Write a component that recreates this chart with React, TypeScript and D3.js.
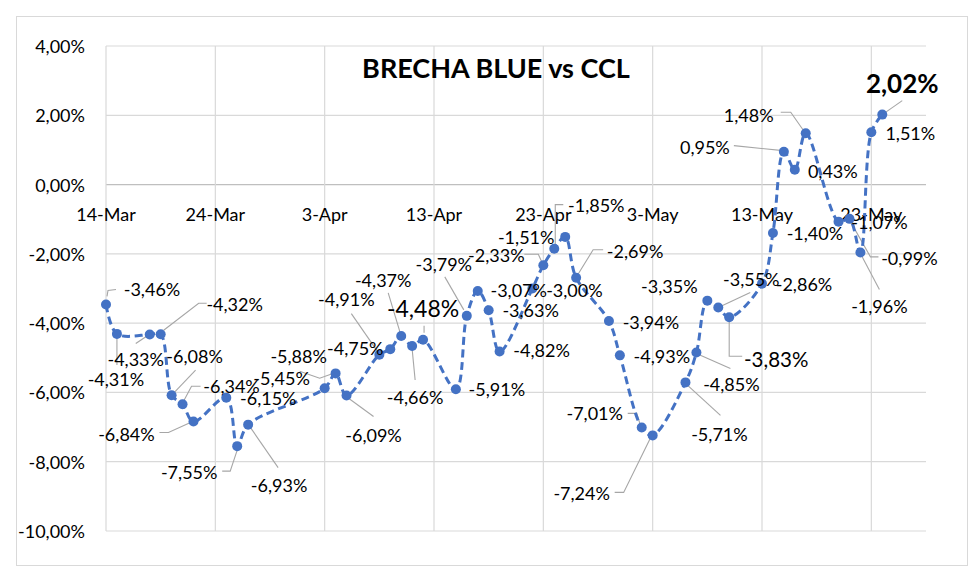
import React from 'react';
import * as d3 from 'd3';

// ---- data ----
const dates = [
  '2024-03-14', '2024-03-15', '2024-03-18', '2024-03-19', '2024-03-20', '2024-03-21', '2024-03-22',
  '2024-03-25', '2024-03-26', '2024-03-27', '2024-04-03', '2024-04-04', '2024-04-05',
  '2024-04-08', '2024-04-09', '2024-04-10', '2024-04-11', '2024-04-12',
  '2024-04-15', '2024-04-16', '2024-04-17', '2024-04-18', '2024-04-19',
  '2024-04-22', '2024-04-23', '2024-04-24', '2024-04-25', '2024-04-26',
  '2024-04-29', '2024-04-30', '2024-05-02', '2024-05-03',
  '2024-05-06', '2024-05-07', '2024-05-08', '2024-05-09', '2024-05-10',
  '2024-05-13', '2024-05-14', '2024-05-15', '2024-05-16', '2024-05-17',
  '2024-05-20', '2024-05-21', '2024-05-22', '2024-05-23', '2024-05-24',
];
const values = [
  -3.46, -4.31, -4.33, -4.32, -6.08, -6.34, -6.84,
  -6.15, -7.55, -6.93, -5.88, -5.45, -6.09,
  -4.91, -4.75, -4.37, -4.66, -4.48,
  -5.91, -3.79, -3.07, -3.63, -4.82,
  -3.0, -2.33, -1.85, -1.51, -2.69,
  -3.94, -4.93, -7.01, -7.24,
  -5.71, -4.85, -3.35, -3.55, -3.83,
  -2.86, -1.4, 0.95, 0.43, 1.48,
  -1.07, -0.99, -1.96, 1.51, 2.02,
];
const yTicks = [-10, -8, -6, -4, -2, 0, 2, 4];
const xTickDates = ['2024-03-14', '2024-03-24', '2024-04-03', '2024-04-13', '2024-04-23', '2024-05-03', '2024-05-13', '2024-05-23'];
const xDomain = ['2024-03-14', '2024-05-28'];
const title = 'BRECHA BLUE vs CCL';

// ---- label layout (offsets from each point, in px) ----
type Lay = { dx: number; dy: number; leader?: number[][]; size?: number; bold?: boolean };
const labelLayout: Lay[] = [
  { dx: 46, dy: -15, leader: [[1, -8], [2, -14], [10, -15]] },
  { dx: -1, dy: 45, leader: [[0, 4], [0, 31]] },
  { dx: -14, dy: 24, leader: [[-14, 9], [-2, 1]] },
  { dx: 74, dy: -30, leader: [[3, -4], [38, -31], [46, -31]] },
  { dx: 23, dy: -39, leader: [[24, -25], [3, -3]] },
  { dx: 49, dy: -18, leader: [[18, -18], [9, -18], [1, -3]] },
  { dx: -67, dy: 12, leader: [[-34, 11], [-25, 11], [-3, 1]] },
  { dx: 42, dy: 0 },
  { dx: -48, dy: 26, leader: [[-15, 25], [-7, 25], [0, 4]] },
  { dx: 31, dy: 60, leader: [[30, 43], [1, 1]] },
  { dx: -26, dy: -32, leader: [[-25, -17], [-5, -10], [9, -15]] },
  { dx: -54, dy: 5 },
  { dx: 27, dy: 39, leader: [[27, 21], [1, 2]] },
  { dx: -33, dy: -56, leader: [[-28, -41], [-1, -2]] },
  { dx: -35, dy: -1 },
  { dx: -18, dy: -56, leader: [[-13, -43], [-1, -3]] },
  { dx: 3, dy: 51, leader: [[3, 34], [0, 3]] },
  { dx: 0, dy: -32, leader: [[1, -14], [1, -7]], size: 23 },
  { dx: 41, dy: 0 },
  { dx: -23, dy: -52, leader: [[-22, -39], [-3, -6]] },
  { dx: 41, dy: -1 },
  { dx: 42, dy: 0 },
  { dx: 42, dy: -2 },
  { dx: 42, dy: 1 },
  { dx: -47, dy: -10, leader: [[-19, -11], [-5, -11], [-1, -2]] },
  { dx: 42, dy: -44, leader: [[1, -3], [1, -44], [9, -44]] },
  { dx: -39, dy: 0 },
  { dx: 59, dy: -27, leader: [[27, -28], [17, -28], [1, -2]] },
  { dx: 42, dy: 1 },
  { dx: 42, dy: 1 },
  { dx: -47, dy: -14, leader: [[-14, -14], [-5, -14], [-1, -1]] },
  { dx: -71, dy: 58, leader: [[-38, 57], [-29, 57], [-1, 0]] },
  { dx: 34, dy: 52, leader: [[35, 33], [0, 1]] },
  { dx: 35, dy: 31, leader: [[34, 16], [0, 1]] },
  { dx: -38, dy: -15 },
  { dx: 33, dy: -29, leader: [[32, -15], [0, 0]] },
  { dx: 47, dy: 42, leader: [[13, 39], [0, 39], [0, 1]], size: 20.5 },
  { dx: 42, dy: 0 },
  { dx: 42, dy: 0 },
  { dx: -79, dy: -5, leader: [[-50, -6], [-1, -1]] },
  { dx: 38, dy: 1 },
  { dx: -57, dy: -18, leader: [[-25, -21], [-15, -21], [-1, -1]] },
  { dx: 41, dy: 0 },
  { dx: 60, dy: 39, leader: [[0, 1], [21, 38], [29, 38]] },
  { dx: 19, dy: 54, leader: [[19, 37], [0, 1]] },
  { dx: 39, dy: 1 },
  { dx: 20, dy: -32, leader: [[20, -14], [0, 0]], size: 26, bold: true },
];

const W = 980;
const H = 582;
const FONT = 'Lato, "Open Sans", sans-serif';
const LABEL_SIZE = 18;
const BLUE = '#4472C4';

const pct = (v: number) => v.toFixed(2).replace('.', ',') + '%';

export default function App() {
  const parse = d3.utcParse('%Y-%m-%d');
  const x = d3.scaleUtc().domain(xDomain.map((d) => parse(d) as Date)).range([106, 926]);
  const y = d3.scaleLinear().domain([-10, 4]).range([531, 46]);
  const fmtDate = d3.utcFormat('%-d-%b');

  const pts = dates.map((d, i) => [x(parse(d) as Date), y(values[i])] as [number, number]);
  const line = d3.line<[number, number]>().curve(d3.curveCatmullRom.alpha(0.5));

  return (
    <svg width={W} height={H} style={{ position: 'absolute', left: 0, top: 0, background: '#fff' }}>
      <rect x={16.5} y={16.5} width={951} height={549} fill="#fff" stroke="#d9d9d9" strokeWidth={1} />
      {/* horizontal gridlines */}
      {yTicks.map((t) => (
        <line key={'h' + t} x1={x.range()[0]} x2={x.range()[1]} y1={y(t)} y2={y(t)}
          stroke={t === 0 ? '#bfbfbf' : '#d9d9d9'} strokeWidth={1.2} />
      ))}
      {/* vertical gridlines */}
      {xTickDates.map((d) => {
        const xx = x(parse(d) as Date);
        return <line key={'v' + d} x1={xx} x2={xx} y1={y(4)} y2={y(-10)} stroke="#d9d9d9" strokeWidth={1.2} />;
      })}
      {/* y tick labels */}
      {yTicks.map((t) => (
        <text key={'yt' + t} x={85} y={y(t)} textAnchor="end" dominantBaseline="central"
          fontFamily={FONT} fontSize={LABEL_SIZE} fill="#000">{pct(t)}</text>
      ))}
      {/* x tick labels */}
      {xTickDates.map((d) => (
        <text key={'xt' + d} x={x(parse(d) as Date)} y={y(0) + 29} textAnchor="middle" dominantBaseline="central"
          fontFamily={FONT} fontSize={LABEL_SIZE} fill="#000">{fmtDate(parse(d) as Date)}</text>
      ))}
      {/* title */}
      <text x={496} y={67} textAnchor="middle" dominantBaseline="central" fontFamily={FONT}
        fontWeight={700} fontSize={27} fill="#000">{title}</text>
      {/* leader lines */}
      {pts.map((p, i) => {
        const l = labelLayout[i];
        if (!l || !l.leader) return null;
        const d = l.leader.map((o, k) => (k === 0 ? 'M' : 'L') + (p[0] + o[0]) + ',' + (p[1] + o[1])).join('');
        return <path key={'ld' + i} d={d} fill="none" stroke="#a6a6a6" strokeWidth={1.1} />;
      })}
      {/* series line */}
      <path d={line(pts) || ''} fill="none" stroke={BLUE} strokeWidth={3} strokeDasharray="8 4.5" />
      {pts.map((p, i) => (
        <circle key={'c' + i} cx={p[0]} cy={p[1]} r={5} fill={BLUE} />
      ))}
      {/* data labels */}
      {pts.map((p, i) => {
        const l = labelLayout[i] || { dx: 40, dy: 0 };
        return (
          <text key={'lb' + i} x={p[0] + l.dx} y={p[1] + l.dy} textAnchor="middle" dominantBaseline="central"
            fontFamily={FONT} fontSize={l.size || LABEL_SIZE} fontWeight={l.bold ? 700 : 400} fill="#000">
            {pct(values[i])}
          </text>
        );
      })}
    </svg>
  );
}
